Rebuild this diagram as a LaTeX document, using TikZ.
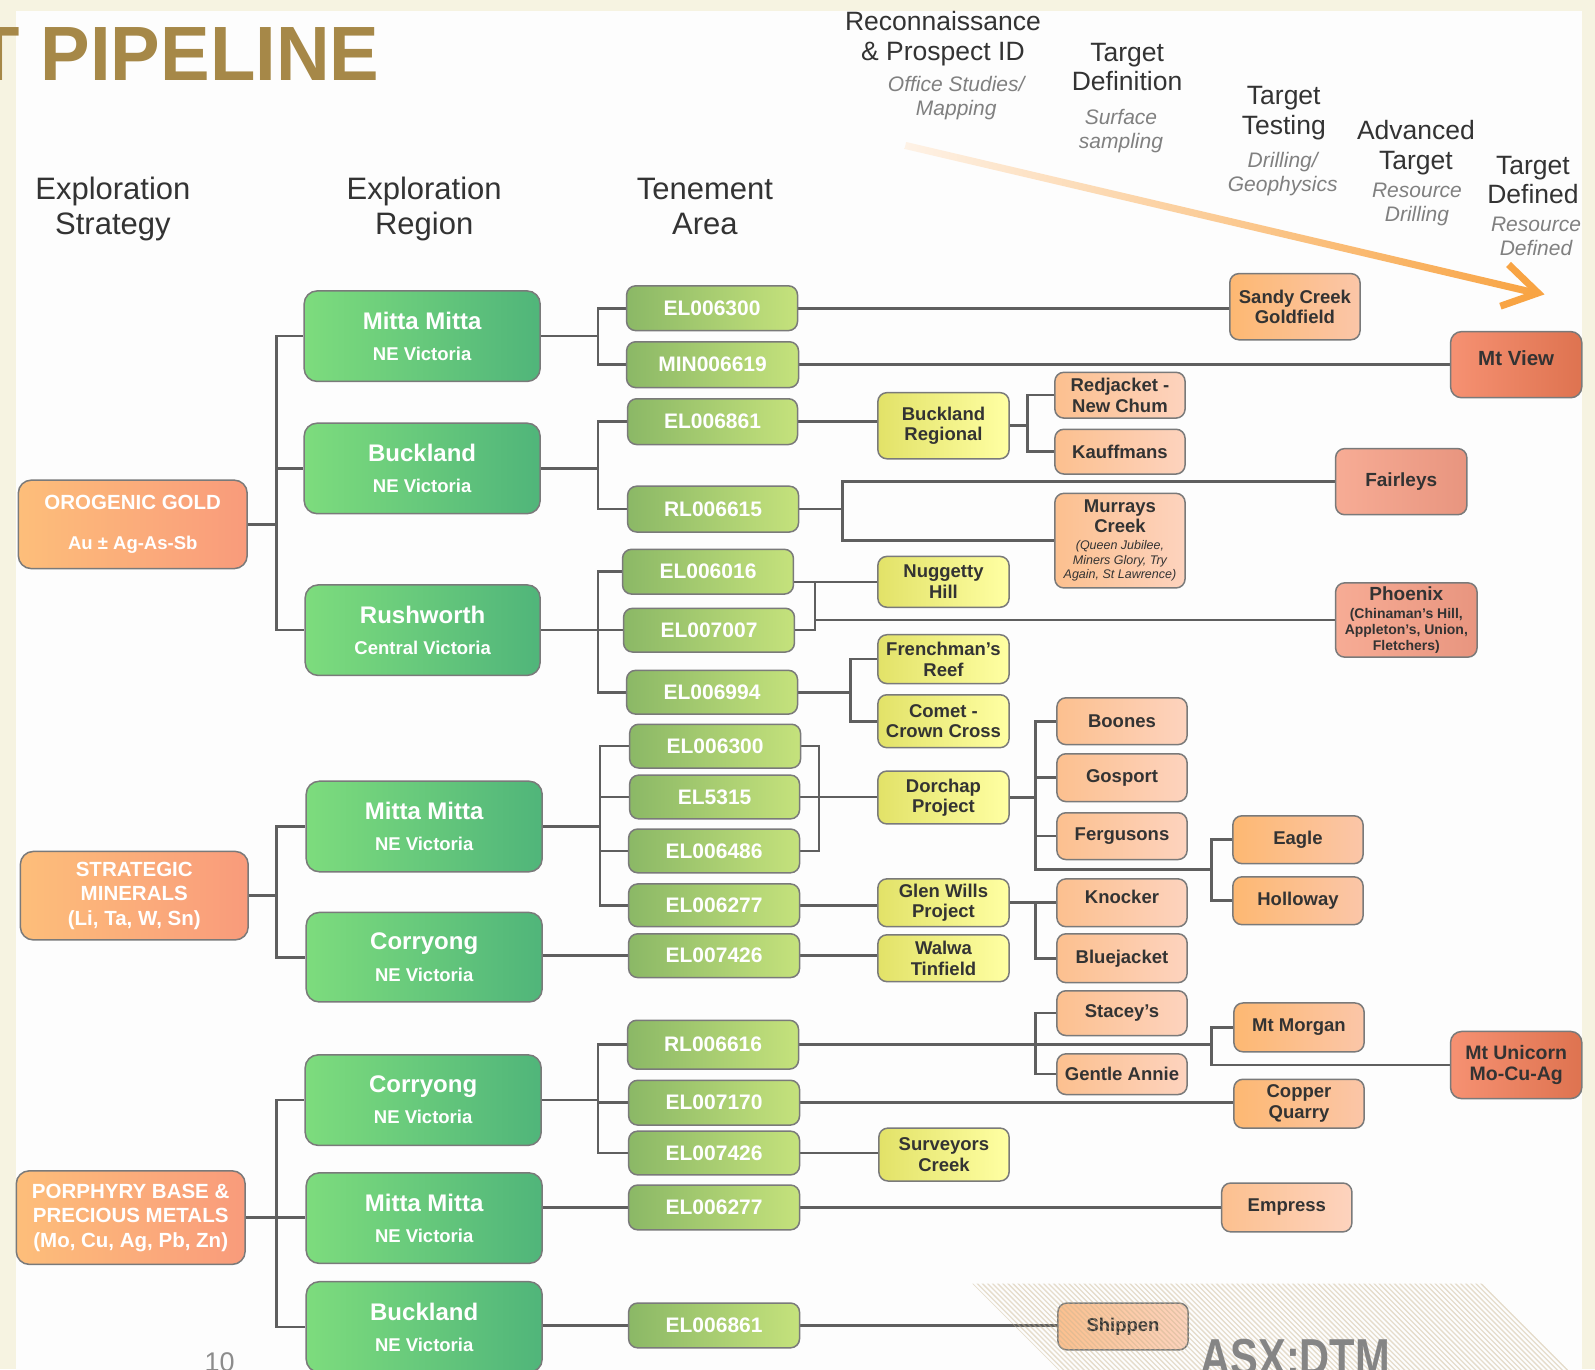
\documentclass[tikz,border=0pt]{standalone}
\usepackage{fontspec}
\setmainfont{Liberation Sans}
\usetikzlibrary{calc}
\definecolor{bgbeige}{HTML}{F6F3E1}
\definecolor{bgwhite}{HTML}{FDFDFD}
\definecolor{gold}{HTML}{A68848}
\definecolor{hdr}{HTML}{333333}
\definecolor{subgrey}{HTML}{808080}
\definecolor{connc}{HTML}{5F5F5F}
\definecolor{bord}{HTML}{7A7A7A}
\definecolor{stratA}{HTML}{FDBE7A}
\definecolor{stratB}{HTML}{F99B7B}
\definecolor{regA}{HTML}{7DDC7D}
\definecolor{regB}{HTML}{50B57A}
\definecolor{tenA}{HTML}{8BB866}
\definecolor{tenB}{HTML}{C5E27C}
\definecolor{yelA}{HTML}{E2E268}
\definecolor{yelB}{HTML}{FFFFA3}
\definecolor{pchA}{HTML}{FCC08F}
\definecolor{pchB}{HTML}{FDD3BE}
\definecolor{orgA}{HTML}{FDB872}
\definecolor{orgB}{HTML}{FBC6A8}
\definecolor{salA}{HTML}{F7AC95}
\definecolor{salB}{HTML}{E8957F}
\definecolor{redA}{HTML}{F69172}
\definecolor{redB}{HTML}{DE7350}
\definecolor{arrA}{HTML}{FEF2E6}
\definecolor{arrB}{HTML}{F8A444}
\definecolor{stripec}{HTML}{C9B590}
\definecolor{darktxt}{HTML}{333333}
\definecolor{asxgrey}{HTML}{858585}
\definecolor{pgnum}{HTML}{8C8C8C}
\pgfdeclarelayer{back}
\pgfdeclarelayer{lines}
\pgfdeclarelayer{front}
\pgfsetlayers{back,lines,main,front}
\tikzset{
  bx/.style={draw=bord, line width=1.5pt, rounded corners=9pt, inner sep=0pt, align=center},
  strat/.style={bx, rounded corners=13pt, left color=stratA, right color=stratB, text=white,
    font=\bfseries\fontsize{20.5}{24.5}\selectfont},
  reg/.style={bx, rounded corners=13pt, left color=regA, right color=regB, text=white,
    font=\bfseries\fontsize{18.5}{31}\selectfont},
  ten/.style={bx, left color=tenA, right color=tenB, text=white,
    font=\bfseries\fontsize{21}{24}\selectfont},
  yel/.style={bx, left color=yelA, right color=yelB, text=darktxt,
    font=\bfseries\fontsize{18.5}{20.5}\selectfont},
  pch/.style={bx, left color=pchA, right color=pchB, text=darktxt,
    font=\bfseries\fontsize{18.5}{20.5}\selectfont},
  org/.style={bx, left color=orgA, right color=orgB, text=darktxt,
    font=\bfseries\fontsize{18.5}{20.5}\selectfont},
  sal/.style={bx, left color=salA, right color=salB, text=darktxt,
    font=\bfseries\fontsize{19}{21}\selectfont},
  mtbox/.style={bx, rounded corners=11pt, left color=redA, right color=redB, text=darktxt,
    font=\bfseries\fontsize{19.5}{21.5}\selectfont},
  raised/.style={text height=13pt, text depth=11pt},
  link/.style={draw=connc, line width=2.6pt},
  colhdr/.style={text=hdr, align=center, inner sep=0pt, font=\fontsize{31}{35}\selectfont},
  stage/.style={text=hdr, align=center, inner sep=0pt, font=\fontsize{26.5}{29.5}\selectfont},
  stagesub/.style={text=subgrey, align=center, inner sep=0pt, font=\itshape\fontsize{21}{24.5}\selectfont},
}
\newcommand\mkbox[7]{\node[#1, minimum width={(#5-#3)*1.0172pt}, minimum height={(#6-#4)*1.0172pt}] (#2) at ({(#3+#5)/2},{(#4+#6)/2}) {#7};}
\newcommand\rtitle[1]{{\fontsize{24}{31}\selectfont #1}}
\newcommand\smallit[1]{{\mdseries\itshape\fontsize{12.5}{14.5}\selectfont #1}}
\newcommand\smallbf[1]{{\fontsize{14}{16}\selectfont #1}}
\begin{document}
\begin{tikzpicture}[x=1.0172pt, y=-1.0172pt]
\useasboundingbox (0,0) rectangle (1568,1346);
\begin{pgfonlayer}{back}
\fill[bgbeige] (0,0) rectangle (1568,1346);
\fill[bgwhite] (15.7,10.8) rectangle (1555.2,1350);
\end{pgfonlayer}

% title and headers
\node[anchor=base west, inner sep=0pt, text=gold, font=\bfseries\fontsize{77}{77}\selectfont] (title) at (-25,79.5) {\scalebox{0.965}[1]{T PIPELINE}};
\node[colhdr] (h1) at (111,205) {Exploration\\Strategy};
\node[colhdr] (h2) at (417,205) {Exploration\\Region};
\node[colhdr] (h3) at (693,203) {Tenement\\Area};

\node[stage] (st1) at (927,38) {Reconnaissance\\\& Prospect ID};
\node[stagesub] (ss1) at (940,96.5) {Office Studies/\\Mapping};
\node[stage] (st2) at (1108,66) {Target\\Definition};
\node[stagesub] (ss2) at (1102,129) {Surface\\sampling};
\node[stage] (st3) at (1262,111) {Target\\Testing};
\node[stagesub] (ss3) at (1261,171) {Drilling/\\Geophysics};
\node[stage] (st4) at (1392,145) {Advanced\\Target};
\node[stagesub] (ss4) at (1393,201) {Resource\\Drilling};
\node[stage] (st5) at (1507,177) {Target\\Defined};
\node[stagesub] (ss5) at (1510,232.5) {Resource\\Defined};

% progress arrow
\shade[left color=arrA, right color=arrB] (890.8,139.6) -- (1505.8,283.6) -- (1504.2,290.4) -- (889.2,146.4) -- cycle;
\draw[arrB, line width=7pt, line join=miter] (1483,260) -- (1512,288) -- (1475,301);

% strategy
\mkbox{strat}{S1}{18}{472}{243}{559}{OROGENIC GOLD\\[15pt]{\fontsize{18.5}{22}\selectfont Au ± Ag-As-Sb}}
\mkbox{strat}{S2}{20}{837}{244}{924}{STRATEGIC\\MINERALS\\(Li, Ta, W, Sn)}
\mkbox{strat}{S3}{16}{1151}{241}{1243}{PORPHYRY BASE \&\\PRECIOUS METALS\\(Mo, Cu, Ag, Pb, Zn)}

% regions
\mkbox{reg}{R1}{299}{286}{531}{375}{\rtitle{Mitta Mitta}\\NE Victoria}
\mkbox{reg}{R2}{299}{416}{531}{505}{\rtitle{Buckland}\\NE Victoria}
\mkbox{reg}{R3}{300}{575}{531}{664}{\rtitle{Rushworth}\\Central Victoria}
\mkbox{reg}{R4}{301}{768}{533}{857}{\rtitle{Mitta Mitta}\\NE Victoria}
\mkbox{reg}{R5}{301}{897}{533}{985}{\rtitle{Corryong}\\NE Victoria}
\mkbox{reg}{R6}{300}{1037}{532}{1126}{\rtitle{Corryong}\\NE Victoria}
\mkbox{reg}{R7}{301}{1153}{533}{1242}{\rtitle{Mitta Mitta}\\NE Victoria}
\mkbox{reg}{R8}{301}{1260}{533}{1349}{\rtitle{Buckland}\\NE Victoria}

% tenements
\mkbox{ten}{T1}{616}{281}{784}{325}{EL006300}
\mkbox{ten}{T2}{616}{336}{785}{381}{MIN006619}
\mkbox{ten}{T3}{617}{392}{784}{437}{EL006861}
\mkbox{ten}{T4}{617}{478}{785}{523}{RL006615}
\mkbox{ten}{T5}{612}{540}{780}{584}{EL006016}
\mkbox{ten}{T6}{613}{598}{781}{641}{EL007007}
\mkbox{ten}{T7}{616}{659}{784}{702}{EL006994}
\mkbox{ten}{T8}{619}{712}{787}{755}{EL006300}
\mkbox{ten}{T9}{619}{762}{786}{805}{EL5315}
\mkbox{ten}{T10}{618}{815}{786}{858}{EL006486}
\mkbox{ten}{T11}{618}{869}{786}{911}{EL006277}
\mkbox{ten}{T12}{618}{918}{786}{961}{EL007426}
\mkbox{ten}{T13}{617}{1003}{785}{1051}{RL006616}
\mkbox{ten}{T14}{618}{1062}{786}{1106}{EL007170}
\mkbox{ten}{T15}{618}{1112}{786}{1155}{EL007426}
\mkbox{ten}{T16}{618}{1165}{786}{1209}{EL006277}
\mkbox{ten}{T17}{618}{1281}{786}{1325}{EL006861}

% yellow prospects
\mkbox{yel}{Y1}{863}{386}{992}{451}{Buckland\\Regional}
\mkbox{yel}{Y2}{863}{547}{992}{597}{Nuggetty\\Hill}
\mkbox{yel}{Y3}{863}{624}{992}{672}{Frenchman’s\\Reef}
\mkbox{yel}{Y4}{863}{683}{992}{735}{Comet -\\Crown Cross}
\mkbox{yel}{Y5}{863}{758}{992}{810}{Dorchap\\Project}
\mkbox{yel}{Y6}{863}{864}{992}{911}{Glen Wills\\Project}
\mkbox{yel}{Y7}{863}{919}{992}{965}{Walwa\\Tinfield}
\mkbox{yel}{Y8}{864}{1109}{992}{1161}{Surveyors\\Creek}

% peach prospects
\mkbox{pch}{P1}{1037}{366}{1165}{411}{Redjacket -\\New Chum}
\mkbox{pch}{P2}{1037}{422}{1165}{466}{Kauffmans}
\mkbox{pch}{P3}{1037}{485}{1165}{578}{Murrays\\Creek\\[-3.5pt]\smallit{(Queen Jubilee,}\\[-6pt]\smallit{Miners Glory, Try}\\[-6pt]\smallit{Again, St Lawrence)}}
\mkbox{pch}{P4}{1039}{686}{1167}{732}{Boones}
\mkbox{pch}{P5}{1039}{741}{1167}{788}{Gosport}
\mkbox{pch}{P6}{1039}{799}{1167}{845}{Fergusons}
\mkbox{pch, raised}{P7}{1039}{864}{1167}{911}{Knocker}
\mkbox{pch}{P8}{1039}{918}{1167}{966}{Bluejacket}
\mkbox{pch}{P9}{1039}{974}{1167}{1018}{Stacey’s}
\mkbox{pch}{P10}{1039}{1036}{1167}{1076}{Gentle Annie}
\mkbox{pch}{P11}{1201}{1163}{1329}{1211}{Empress}
\mkbox{pch}{P12}{1040}{1281}{1168}{1327}{Shippen}

% orange targets
\mkbox{org}{O1}{1209}{269}{1337}{334}{Sandy Creek\\Goldfield}
\mkbox{org}{O2}{1212}{802}{1340}{849}{Eagle}
\mkbox{org}{O3}{1212}{862}{1340}{909}{Holloway}
\mkbox{org}{O4}{1213}{986}{1341}{1034}{Mt Morgan}
\mkbox{org}{O5}{1213}{1061}{1341}{1109}{Copper\\Quarry}

% salmon
\mkbox{sal}{F1}{1313}{441}{1442}{506}{Fairleys}
\mkbox{sal}{F2}{1313}{573}{1452}{646}{Phoenix\\[-3pt]\smallbf{(Chinaman’s Hill,}\\[-5pt]\smallbf{Appleton’s, Union,}\\[-5pt]\smallbf{Fletchers)}}

% defined targets
\mkbox{mtbox, text height=14pt, text depth=12pt}{M1}{1426}{326}{1555}{391}{\fontsize{20.5}{22}\selectfont Mt View}
\mkbox{mtbox}{M2}{1426}{1014}{1555}{1080}{Mt Unicorn\\Mo-Cu-Ag}

% bus coordinates
\coordinate (bS) at (272,0);
\coordinate (bR) at (588,0);
\coordinate (bR2) at (590,0);
\coordinate (bY1) at (1010,0);
\coordinate (bT4) at (828,0);
\coordinate (bN) at (801,0);
\coordinate (bT7) at (836,0);
\coordinate (bDo) at (805,0);
\coordinate (bD) at (1018,0);
\coordinate (bE) at (1191,0);
\coordinate (jD) at (1018,855);

\begin{pgfonlayer}{lines}
% strategy -> regions
\draw[link] (S1.east) -| (bS |- R1.west) -- (R1.west);
\draw[link] (S1.east) -| (bS |- R3.west) -- (R3.west);
\draw[link] (bS |- R2.west) -- (R2.west);
\draw[link] (S2.east) -| (bS |- R4.west) -- (R4.west);
\draw[link] (S2.east) -| (bS |- R5.west) -- (R5.west);
\draw[link] (S3.east) -| (bS |- R6.west) -- (R6.west);
\draw[link] (S3.east) -| (bS |- R8.west) -- (R8.west);
\draw[link] (S3.east) -- (R7.west |- S3.east);
% regions -> tenements
\draw[link] (R1.east) -| (bR |- T1.west) -- (T1.west);
\draw[link] (R1.east) -| (bR |- T2.west) -- (T2.west);
\draw[link] (R2.east) -| (bR |- T3.west) -- (T3.west);
\draw[link] (R2.east) -| (bR |- T4.west) -- (T4.west);
\draw[link] (R3.east) -| (bR |- T5.west) -- (T5.west);
\draw[link] (R3.east) -| (bR |- T7.west) -- (T7.west);
\draw[link] (bR |- T6.west) -- (T6.west);
\draw[link] (R4.east) -| (bR2 |- T8.west) -- (T8.west);
\draw[link] (R4.east) -| (bR2 |- T11.west) -- (T11.west);
\draw[link] (bR2 |- T9.west) -- (T9.west);
\draw[link] (bR2 |- T10.west) -- (T10.west);
\draw[link] (R5.east |- T12.west) -- (T12.west);
\draw[link] (R6.east) -| (bR |- T13.west) -- (T13.west);
\draw[link] (R6.east) -| (bR |- T15.west) -- (T15.west);
\draw[link] (bR |- T14.west) -- (T14.west);
\draw[link] (R7.east |- T16.west) -- (T16.west);
\draw[link] (R8.east |- T17.west) -- (T17.west);
% tenements -> prospects
\draw[link] (T1.east) -- (O1.west |- T1.east);
\draw[link] (T2.east) -- (M1.west |- T2.east);
\draw[link] (T3.east) -- (Y1.west |- T3.east);
\draw[link] (Y1.east) -| (bY1 |- P1.west) -- (P1.west);
\draw[link] (Y1.east) -| (bY1 |- P2.west) -- (P2.west);
\draw[link] (T4.east) -| (bT4 |- F1.west) -- (F1.west);
\draw[link] (T4.east) -| (bT4 |- P3.west) -- (P3.west);
\draw[link] (T5.east |- Y2.west) -- (Y2.west);
\draw[link] (T6.east) -| (bN |- Y2.west);
\draw[link] (bN |- F2.west) -- (F2.west);
\draw[link] (T7.east) -| (bT7 |- Y3.west) -- (Y3.west);
\draw[link] (T7.east) -| (bT7 |- Y4.west) -- (Y4.west);
\draw[link] (T8.east) -| (bDo |- T10.east) -- (T10.east);
\draw[link] (T9.east) -- (Y5.west |- T9.east);
\draw[link] (Y5.east) -| (bD |- P4.west) -- (P4.west);
\draw[link] (bD |- P5.west) -- (P5.west);
\draw[link] (bD |- P6.west) -- (P6.west);
\draw[link] (Y5.east -| bD) -- (jD) -| (bE |- O2.west) -- (O2.west);
\draw[link] (jD -| bE) |- (O3.west);
\draw[link] (T11.east) -- (Y6.west |- T11.east);
\draw[link] (Y6.east) -| (bD |- P7.west) -- (P7.west);
\draw[link] (Y6.east) -| (bD |- P8.west) -- (P8.west);
\draw[link] (T12.east) -- (Y7.west |- T12.east);
\draw[link] (T13.east) -- (bE |- T13.east);
\draw[link] (P9.west) -| (bD |- P10.west) -- (P10.west);
\draw[link] (O4.west) -| (bE |- M2.west) -- (M2.west);
\draw[link] (T14.east) -- (O5.west |- T14.east);
\draw[link] (T15.east) -- (Y8.west |- T15.east);
\draw[link] (T16.east) -- (P11.west |- T16.east);
\draw[link] (T17.east) -- (P12.west |- T17.east);
\end{pgfonlayer}

\begin{pgfonlayer}{front}
\begin{scope}
\clip (956,1262) -- (1457,1262) -- (1545,1350) -- (1044,1350) -- cycle;
\foreach \k in {0,...,101} \draw[stripec, opacity=0.45, line width=1.3pt] ({954+5*\k},1260) -- ++(92,92);
\end{scope}
\node[anchor=base west, inner sep=0pt, text=asxgrey, font=\bfseries\fontsize{52}{52}\selectfont] (asx) at (1180,1352) {\scalebox{0.8}[1]{ASX:DTM}};
\node[anchor=base west, inner sep=0pt, text=pgnum, font=\fontsize{27}{27}\selectfont] (pg) at (201,1348) {10};
\end{pgfonlayer}
\end{tikzpicture}
\end{document}
